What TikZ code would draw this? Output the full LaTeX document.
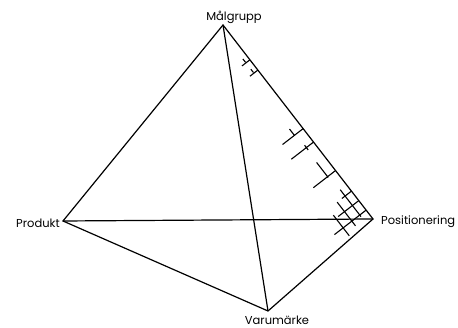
\documentclass[tikz,border=0pt]{standalone}
\usepackage{fontspec}
\setmainfont{Poppins}
\usepackage{tikz}
\usetikzlibrary{calc}

\tikzset{
  edge/.style={line width=1.2pt},
  tickmark/.style={line width=1.1pt},
  lbl/.style={font=\fontsize{11.5}{13}\selectfont, inner sep=1pt}
}

\begin{document}
\begin{tikzpicture}[x=1pt, y=1pt]
  \useasboundingbox (0,0) rectangle (458,328);
  % corners of the tetrahedron
  \coordinate (malgrupp) at (223,303);
  \coordinate (produkt) at (63,107);
  \coordinate (positionering) at (373,109);
  \coordinate (varumarke) at (268,17);
  % labels
  \node[lbl] (malgruppLabel) at (234,311) {Målgrupp};
  \node[lbl, anchor=east] (produktLabel) at (61,105) {Produkt};
  \node[lbl, anchor=west] (positioneringLabel) at (380,106) {Positionering};
  \node[lbl] (varumarkeLabel) at (277,8) {Varumärke};
  % edges
  \draw[edge] (malgrupp) -- (produkt) -- (varumarke) -- (positionering) -- cycle;
  \draw[edge] (malgrupp) -- (varumarke);
  \draw[edge] (produkt) -- (positionering);
  % marks along Målgrupp--Positionering
  \begin{scope}[shift={(malgrupp)}, rotate=-52.3]
    \foreach \s/\l/\d/\a/\b in {44/10/5/43/39, 57/10/5/56/52, 131/26/11/131/123, 148/28/9/151/145, 184/28/10/185/166}
      \draw[tickmark] (\s,0) -- (\s,-\l) (\a,-\d) -- (\b,-\d);
    % lattice near Positionering
    \foreach \s/\l in {210/12, 222/26, 234/40}
      \draw[tickmark] (\s,0) -- (\s,-\l);
    \foreach \n/\a/\b in {8/202/236, 18/210/240, 29/218/244}
      \draw[tickmark] (\a,-\n) -- (\b,-\n);
  \end{scope}
\end{tikzpicture}
\end{document}
